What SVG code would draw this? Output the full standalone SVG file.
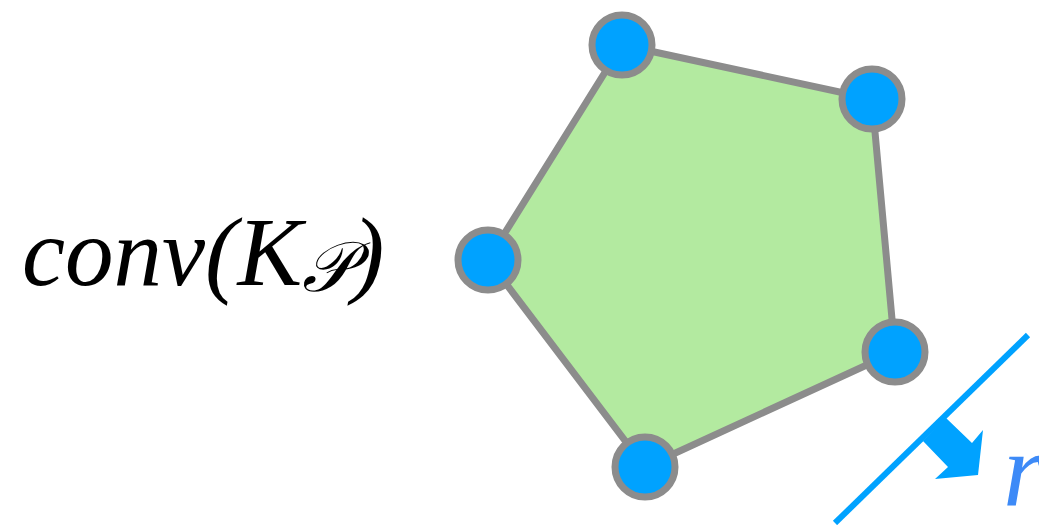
<svg xmlns="http://www.w3.org/2000/svg" width="1039" height="525" viewBox="0 0 1039 525">
<style>
.v{fill:#00a2ff;stroke:#8c8c8c;stroke-width:7}
.m{font-family:"Liberation Serif","DejaVu Serif",serif;font-style:italic}
</style>
<rect width="1039" height="525" fill="#fff"/>
<g id="hull">
<polygon points="622,45 872,99 895,352 645,467 488,260" fill="#b3eaa0" stroke="#8c8c8c" stroke-width="7" stroke-linejoin="round"/>
</g>
<g id="vertices">
<circle class="v" cx="622" cy="45" r="30"/>
<circle class="v" cx="872" cy="99" r="30"/>
<circle class="v" cx="895" cy="352" r="30"/>
<circle class="v" cx="645" cy="467" r="30"/>
<circle class="v" cx="488" cy="260" r="30"/>
</g>
<g id="connectors">
<line x1="835" y1="523" x2="1028" y2="335" stroke="#00a2ff" stroke-width="6"/>
<polygon points="946,418 972,443 983,430 978,475 935,479 948,467 923,441" fill="#00a2ff"/>
</g>
<g id="labels">
<text class="m" x="22" y="285" font-size="97" fill="#000">conv(K<tspan font-size="70" dy="6">𝒫</tspan><tspan dy="-6">)</tspan></text>
<text class="m" x="1003" y="505" font-size="105" fill="#3d8af7">r</text>
</g>
</svg>
